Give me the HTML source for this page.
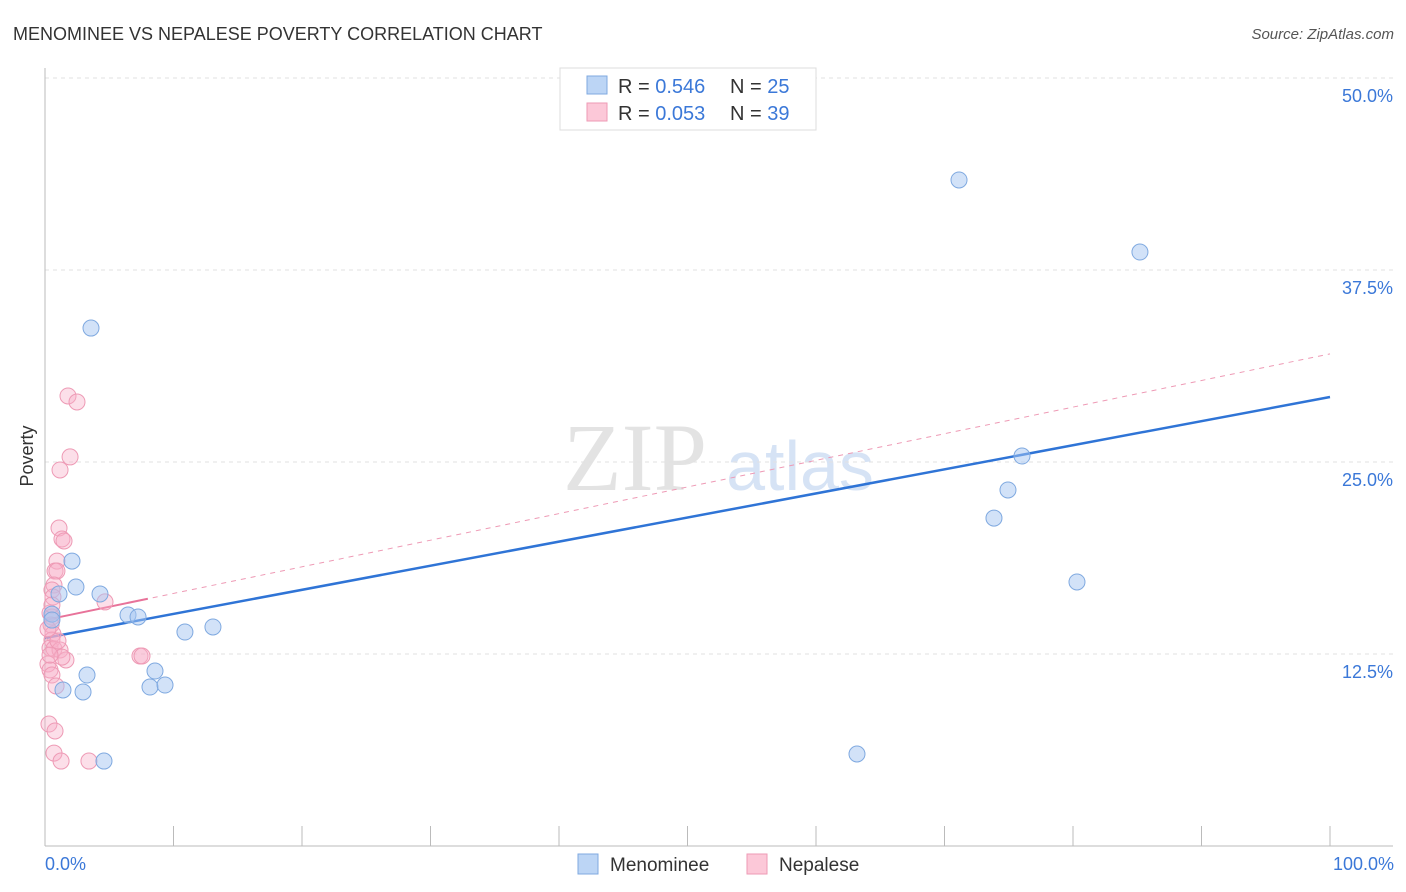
<!DOCTYPE html>
<html><head><meta charset="utf-8"><style>
body{margin:0;background:#fff;font-family:"Liberation Sans",sans-serif;}
svg{display:block}
</style></head><body>
<svg id="chart" width="1406" height="892" viewBox="0 0 1406 892">
<text x="13" y="40" font-size="18" fill="#333">MENOMINEE VS NEPALESE POVERTY CORRELATION CHART</text>
<text x="1394" y="39" font-size="15" fill="#555" text-anchor="end" font-style="italic">Source: ZipAtlas.com</text>
<g>
<text x="635" y="490" font-size="96" fill="#e3e3e3" font-family="Liberation Serif,serif" text-anchor="middle">ZIP</text>
<text x="800" y="490" font-size="70" fill="#d6e3f5" text-anchor="middle">atlas</text>
</g>
<g id="grid"></g>
<g id="axes"></g>
<g id="trend"></g>
<g id="points"></g>
<text transform="translate(33,456) rotate(-90)" font-size="18" fill="#333" text-anchor="middle">Poverty</text>
<text x="45" y="870" font-size="18" fill="#3b78d8">0.0%</text>
<text x="1394" y="870" font-size="18" fill="#3b78d8" text-anchor="end">100.0%</text>
<g>
<rect x="560" y="68" width="256" height="62" fill="#fff" stroke="#ddd"/>
<rect x="587" y="76" width="20" height="18" fill="#bcd5f5" stroke="#7fa9e0"/>
<rect x="587" y="103" width="20" height="18" fill="#fcc8d8" stroke="#ee9ab5"/>
<text x="618" y="93" font-size="20" fill="#333">R = <tspan fill="#3b78d8">0.546</tspan><tspan x="730">N = </tspan><tspan fill="#3b78d8">25</tspan></text>
<text x="618" y="120" font-size="20" fill="#333">R = <tspan fill="#3b78d8">0.053</tspan><tspan x="730">N = </tspan><tspan fill="#3b78d8">39</tspan></text>
</g>
<g>
<rect x="578" y="854" width="20" height="20" fill="#bcd5f5" stroke="#7fa9e0"/>
<text x="610" y="871" font-size="19" fill="#333">Menominee</text>
<rect x="747" y="854" width="20" height="20" fill="#fcc8d8" stroke="#ee9ab5"/>
<text x="779" y="871" font-size="19" fill="#333">Nepalese</text>
</g>
</svg>
<script>
const yTicks=[12.5,25,37.5,50];
const yTickLabels=["12.5%","25.0%","37.5%","50.0%"];
const xTicks=[0,10,20,30,40,50,60,70,80,90,100];
const menX=[3.58,2.10,2.41,1.09,0.54,0.54,4.28,6.46,7.24,10.89,13.07,3.27,1.40,2.96,8.56,8.17,9.34,4.59,71.13,85.21,76.03,74.94,73.85,80.31,63.19];
const menY=[33.72,18.55,16.86,16.41,15.10,14.71,16.41,15.04,14.91,13.93,14.26,11.13,10.16,10.03,11.39,10.35,10.48,5.53,43.36,38.67,25.39,23.18,21.35,17.19,5.99];
const nepX=[1.79,2.49,1.95,1.17,1.09,1.32,1.48,0.93,0.78,0.93,0.70,0.54,0.62,4.67,0.39,0.54,0.47,0.62,0.54,0.39,0.70,1.17,1.63,1.32,7.39,7.55,0.23,0.39,0.54,0.86,0.31,0.78,0.70,1.25,3.42,0.54,0.23,1.01,0.39];
const nepY=[29.30,28.91,25.33,24.48,20.70,19.99,19.86,18.55,17.90,17.90,16.99,16.67,16.21,15.89,15.17,14.91,14.39,13.80,13.41,12.89,12.83,12.76,12.11,12.30,12.37,12.37,11.85,11.46,11.13,10.42,7.94,7.49,6.05,5.53,5.53,15.69,14.13,13.35,12.43];
const menTrend=[13.54,29.23];
const nepTrend=[14.71,32.04];
const NS="http://www.w3.org/2000/svg";
const X=v=>45+v*12.85, Y=v=>846-v*15.36;
function mk(p,t,a){const e=document.createElementNS(NS,t);for(const k in a)e.setAttribute(k,a[k]);document.getElementById(p).appendChild(e);return e;}
yTicks.forEach((t,i)=>{
 const l=mk('grid','line',{x1:45,x2:1393,y1:Y(t),y2:Y(t),stroke:'#e2e2e2','stroke-dasharray':'4,4'});
 
 
 const tx=mk('grid','text',{x:1393,y:Y(t)+24,'font-size':18,fill:'#3b78d8','text-anchor':'end'});
 tx.textContent=yTickLabels[i];
 
 
});
const ax=mk('axes','line',{x1:45,x2:45,y1:68,y2:846,stroke:'#bbb'});


const bx=mk('axes','line',{x1:45,x2:1393,y1:846,y2:846,stroke:'#bbb'});


xTicks.forEach(t=>{
 const l=mk('axes','line',{x1:X(t),x2:X(t),y1:826,y2:846,stroke:'#bbb'});
 
 
});
const nd=mk('trend','line',{x1:X(0),y1:Y(nepTrend[0]),x2:X(100),y2:Y(nepTrend[1]),stroke:'#ee9ab5','stroke-width':1,'stroke-dasharray':'5,5'});


const ns=mk('trend','line',{x1:X(0),y1:Y(nepTrend[0]),x2:X(8),y2:Y(nepTrend[0]+(nepTrend[1]-nepTrend[0])*0.08),stroke:'#e8739a','stroke-width':2});


const mt=mk('trend','line',{x1:X(0),y1:Y(menTrend[0]),x2:X(100),y2:Y(menTrend[1]),stroke:'#2f74d6','stroke-width':2.5});


nepX.forEach((x,i)=>{
 const c=mk('points','circle',{cx:X(x),cy:Y(nepY[i]),r:8,fill:'rgba(248,175,200,0.4)',stroke:'#ee9ab5','stroke-width':1});
 
 
});
menX.forEach((x,i)=>{
 const c=mk('points','circle',{cx:X(x),cy:Y(menY[i]),r:8,fill:'rgba(165,198,242,0.5)',stroke:'#7fa9e0','stroke-width':1});
 
 
});
</script>
</body></html>
